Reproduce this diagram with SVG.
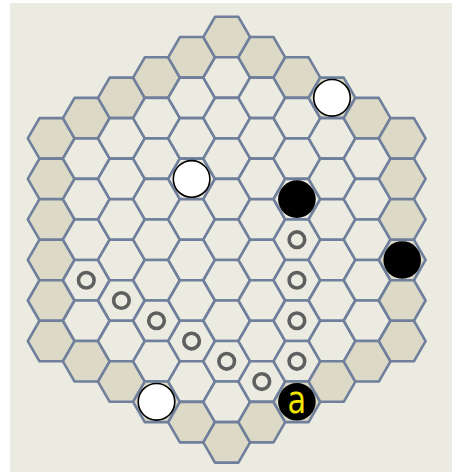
<svg xmlns="http://www.w3.org/2000/svg" xmlns:xlink="http://www.w3.org/1999/xlink" width="452" height="472" viewBox="0 0 452 472">
<style>
.c{fill:#ecebe1;stroke:#6f7f9c;stroke-width:2.6;stroke-linejoin:round}
.e{fill:#dcd9c7;stroke:#6f7f9c;stroke-width:2.6;stroke-linejoin:round}
.w{fill:#ffffff;stroke:#000000;stroke-width:1.6}
.b{fill:#000000}
.r{fill:none;stroke:#5f5f5f;stroke-width:3.6}
.t{font-family:"DejaVu Sans",sans-serif;font-size:38px;fill:#f2e600;text-anchor:middle}
</style>
<defs>
<polygon id="hex" points="-23.4,0 -11.7,-20.26 11.7,-20.26 23.4,0 11.7,20.26 -11.7,20.26"/>
</defs>
<rect x="10" y="3" width="442" height="469" fill="#ecebe1"/>
<g id="board">
<g id="col-5">
<use href="#hex" class="e" x="51.2" y="138.38"/><use href="#hex" class="e" x="51.2" y="178.91"/><use href="#hex" class="e" x="51.2" y="219.44"/><use href="#hex" class="e" x="51.2" y="259.97"/><use href="#hex" class="e" x="51.2" y="300.5"/><use href="#hex" class="e" x="51.2" y="341.03"/>
</g>
<g id="col-4">
<use href="#hex" class="e" x="86.3" y="118.11"/><use href="#hex" class="c" x="86.3" y="158.64"/><use href="#hex" class="c" x="86.3" y="199.17"/><use href="#hex" class="c" x="86.3" y="239.7"/><use href="#hex" class="c" x="86.3" y="280.23"/><use href="#hex" class="c" x="86.3" y="320.76"/><use href="#hex" class="e" x="86.3" y="361.29"/>
</g>
<g id="col-3">
<use href="#hex" class="e" x="121.4" y="97.85"/><use href="#hex" class="c" x="121.4" y="138.38"/><use href="#hex" class="c" x="121.4" y="178.91"/><use href="#hex" class="c" x="121.4" y="219.44"/><use href="#hex" class="c" x="121.4" y="259.97"/><use href="#hex" class="c" x="121.4" y="300.5"/><use href="#hex" class="c" x="121.4" y="341.03"/><use href="#hex" class="e" x="121.4" y="381.56"/>
</g>
<g id="col-2">
<use href="#hex" class="e" x="156.5" y="77.58"/><use href="#hex" class="c" x="156.5" y="118.11"/><use href="#hex" class="c" x="156.5" y="158.64"/><use href="#hex" class="c" x="156.5" y="199.17"/><use href="#hex" class="c" x="156.5" y="239.7"/><use href="#hex" class="c" x="156.5" y="280.23"/><use href="#hex" class="c" x="156.5" y="320.76"/><use href="#hex" class="c" x="156.5" y="361.29"/><use href="#hex" class="e" x="156.5" y="401.82"/>
</g>
<g id="col-1">
<use href="#hex" class="e" x="191.6" y="57.32"/><use href="#hex" class="c" x="191.6" y="97.85"/><use href="#hex" class="c" x="191.6" y="138.38"/><use href="#hex" class="c" x="191.6" y="178.91"/><use href="#hex" class="c" x="191.6" y="219.44"/><use href="#hex" class="c" x="191.6" y="259.97"/><use href="#hex" class="c" x="191.6" y="300.5"/><use href="#hex" class="c" x="191.6" y="341.03"/><use href="#hex" class="c" x="191.6" y="381.56"/><use href="#hex" class="e" x="191.6" y="422.09"/>
</g>
<g id="col0">
<use href="#hex" class="e" x="226.7" y="37.05"/><use href="#hex" class="c" x="226.7" y="77.58"/><use href="#hex" class="c" x="226.7" y="118.11"/><use href="#hex" class="c" x="226.7" y="158.64"/><use href="#hex" class="c" x="226.7" y="199.17"/><use href="#hex" class="c" x="226.7" y="239.7"/><use href="#hex" class="c" x="226.7" y="280.23"/><use href="#hex" class="c" x="226.7" y="320.76"/><use href="#hex" class="c" x="226.7" y="361.29"/><use href="#hex" class="c" x="226.7" y="401.82"/><use href="#hex" class="e" x="226.7" y="442.35"/>
</g>
<g id="col1">
<use href="#hex" class="e" x="261.8" y="57.32"/><use href="#hex" class="c" x="261.8" y="97.85"/><use href="#hex" class="c" x="261.8" y="138.38"/><use href="#hex" class="c" x="261.8" y="178.91"/><use href="#hex" class="c" x="261.8" y="219.44"/><use href="#hex" class="c" x="261.8" y="259.97"/><use href="#hex" class="c" x="261.8" y="300.5"/><use href="#hex" class="c" x="261.8" y="341.03"/><use href="#hex" class="c" x="261.8" y="381.56"/><use href="#hex" class="e" x="261.8" y="422.09"/>
</g>
<g id="col2">
<use href="#hex" class="e" x="296.9" y="77.58"/><use href="#hex" class="c" x="296.9" y="118.11"/><use href="#hex" class="c" x="296.9" y="158.64"/><use href="#hex" class="c" x="296.9" y="199.17"/><use href="#hex" class="c" x="296.9" y="239.7"/><use href="#hex" class="c" x="296.9" y="280.23"/><use href="#hex" class="c" x="296.9" y="320.76"/><use href="#hex" class="c" x="296.9" y="361.29"/><use href="#hex" class="e" x="296.9" y="401.82"/>
</g>
<g id="col3">
<use href="#hex" class="e" x="332" y="97.85"/><use href="#hex" class="c" x="332" y="138.38"/><use href="#hex" class="c" x="332" y="178.91"/><use href="#hex" class="c" x="332" y="219.44"/><use href="#hex" class="c" x="332" y="259.97"/><use href="#hex" class="c" x="332" y="300.5"/><use href="#hex" class="c" x="332" y="341.03"/><use href="#hex" class="e" x="332" y="381.56"/>
</g>
<g id="col4">
<use href="#hex" class="e" x="367.1" y="118.11"/><use href="#hex" class="c" x="367.1" y="158.64"/><use href="#hex" class="c" x="367.1" y="199.17"/><use href="#hex" class="c" x="367.1" y="239.7"/><use href="#hex" class="c" x="367.1" y="280.23"/><use href="#hex" class="c" x="367.1" y="320.76"/><use href="#hex" class="e" x="367.1" y="361.29"/>
</g>
<g id="col5">
<use href="#hex" class="e" x="402.2" y="138.38"/><use href="#hex" class="e" x="402.2" y="178.91"/><use href="#hex" class="e" x="402.2" y="219.44"/><use href="#hex" class="e" x="402.2" y="259.97"/><use href="#hex" class="e" x="402.2" y="300.5"/><use href="#hex" class="e" x="402.2" y="341.03"/>
</g>
</g>
<g id="markers">
<circle class="r" cx="86.3" cy="280.23" r="7.8"/>
<circle class="r" cx="121.4" cy="300.5" r="7.8"/>
<circle class="r" cx="156.5" cy="320.76" r="7.8"/>
<circle class="r" cx="191.6" cy="341.03" r="7.8"/>
<circle class="r" cx="226.7" cy="361.29" r="7.8"/>
<circle class="r" cx="261.8" cy="381.56" r="7.8"/>
<circle class="r" cx="296.9" cy="239.7" r="7.8"/>
<circle class="r" cx="296.9" cy="280.23" r="7.8"/>
<circle class="r" cx="296.9" cy="320.76" r="7.8"/>
<circle class="r" cx="296.9" cy="361.29" r="7.8"/>
</g>
<g id="stones">
<g id="white1"><circle class="w" cx="332" cy="97.85" r="18.3"/></g>
<g id="white2"><circle class="w" cx="191.6" cy="178.91" r="18.3"/></g>
<g id="white3"><circle class="w" cx="156.5" cy="401.82" r="18.3"/></g>
<g id="black1"><circle class="b" cx="296.9" cy="199.17" r="18.8"/></g>
<g id="black2"><circle class="b" cx="402.2" cy="259.97" r="18.8"/></g>
<g id="blackA"><circle class="b" cx="296.9" cy="401.82" r="18.8"/><text class="t" transform="translate(296.9,412.8) scale(0.8,1)" x="0" y="0">a</text></g>
</g>
</svg>
